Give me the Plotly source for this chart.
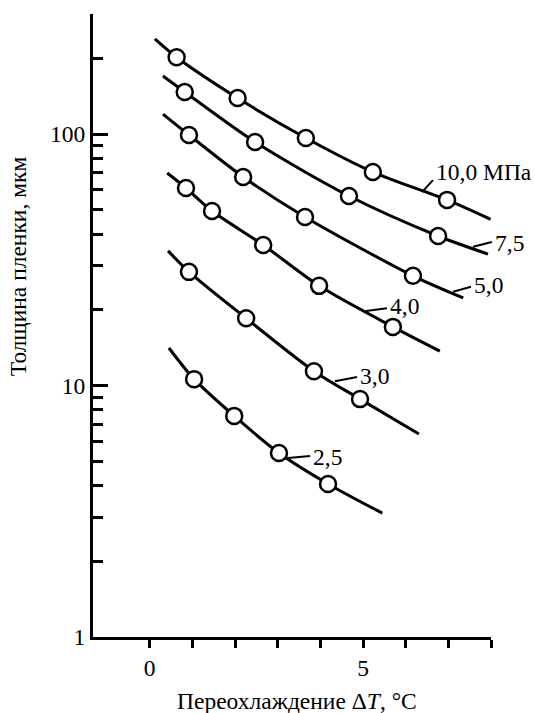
import plotly.graph_objects as go
import numpy as np

# ---- data ----
pressures = ["10,0 МПа", "7,5", "5,0", "4,0", "3,0", "2,5"]

# measured points (open circles)
pts_x = [
    [0.63, 2.06, 3.66, 5.23, 6.97],
    [0.82, 2.47, 4.67, 6.76],
    [0.92, 2.19, 3.64, 6.17],
    [0.85, 1.46, 2.66, 3.97, 5.70],
    [0.92, 2.26, 3.85, 4.93],
    [1.04, 1.98, 3.03, 4.18],
]
pts_y = [
    [202, 139, 96.4, 70.6, 54.7],
    [147, 92.9, 56.7, 39.3],
    [99.1, 67.5, 46.8, 27.3],
    [61.0, 49.4, 36.2, 24.9, 17.1],
    [28.3, 18.5, 11.4, 8.83],
    [10.6, 7.57, 5.39, 4.06],
]
# fitted curve end points (start, end)
curve_start_x = [0.12, 0.31, 0.31, 0.41, 0.43, 0.45]
curve_start_y = [239, 170, 120, 70.0, 34.3, 14.1]
curve_end_x = [7.99, 7.93, 7.35, 6.80, 6.31, 5.45]
curve_end_y = [45.8, 33.3, 22.3, 13.7, 6.41, 3.11]

# label leader lines: (x on curve, y on curve) -> (x at text, y at text)
lead_x0 = [6.38, 7.58, 7.11, 5.07, 4.34, 3.24]
lead_y0 = [58.7, 35.6, 23.6, 19.8, 10.4, 5.15]
lead_x1 = [6.64, 8.02, 7.53, 5.56, 4.86, 3.76]
lead_y1 = [65.6, 37.2, 24.7, 20.3, 10.8, 5.25]
label_y = [70.6, 36.9, 25.1, 20.7, 10.9, 5.20]

x_ticks = [0, 1, 2, 3, 4, 5, 6, 7, 8]
x_ticklabels = ["0", "", "", "", "", "5", "", "", ""]
y_ticks = [1, 10, 100]
y_ticklabels = ["1", "10", "100"]
y_minor = [2, 3, 4, 5, 6, 7, 8, 9, 20, 30, 40, 50, 60, 70, 80, 90, 200, 300]

FONT = "Liberation Serif, Times New Roman, serif"
FS = 23.5
XMIN, XMAX = -1.33, 8.0
YMAX = 300


def xpaper(v):
    return (v - XMIN) / (XMAX - XMIN)


fig = go.Figure()
for i in range(len(pressures)):
    lx = [curve_start_x[i]] + pts_x[i] + [curve_end_x[i]]
    ly = [curve_start_y[i]] + pts_y[i] + [curve_end_y[i]]
    fig.add_trace(go.Scatter(x=lx, y=ly, mode="lines",
                             line=dict(color="black", width=3, shape="spline", smoothing=0.8),
                             showlegend=False, hoverinfo="skip"))
    # leader line
    fig.add_shape(type="line", xref="paper", yref="y",
                  x0=xpaper(lead_x0[i]), x1=xpaper(lead_x1[i]),
                  y0=lead_y0[i], y1=lead_y1[i],
                  line=dict(color="black", width=2), layer="below")
    fig.add_trace(go.Scatter(x=pts_x[i], y=pts_y[i], mode="markers",
                             marker=dict(symbol="circle", size=16, color="white",
                                         line=dict(color="black", width=2.5)),
                             showlegend=False, cliponaxis=False))
    fig.add_annotation(xref="paper", x=xpaper(lead_x1[i] + 0.02), y=np.log10(label_y[i]),
                       text=pressures[i], xanchor="left", yanchor="middle", showarrow=False,
                       font=dict(family=FONT, size=FS, color="black"))

# axis titles
fig.add_annotation(xref="paper", yref="paper", x=0.513, y=-0.103,
                   text="Переохлаждение Δ<i>T</i>, °C", showarrow=False,
                   xanchor="center", yanchor="middle",
                   font=dict(family=FONT, size=FS, color="black"))
fig.add_annotation(xref="paper", yref="paper", x=-0.188, y=0.5955,
                   text="Толщина пленки, мкм", showarrow=False, textangle=-90,
                   xanchor="center", yanchor="middle",
                   font=dict(family=FONT, size=FS, color="black"))

fig.update_xaxes(range=[XMIN, XMAX], showline=True, linecolor="black", linewidth=3,
                 ticks="outside", ticklen=8, tickwidth=3, tickcolor="black",
                 tickmode="array", tickvals=x_ticks, ticktext=x_ticklabels,
                 showgrid=False, zeroline=False,
                 tickfont=dict(family=FONT, size=FS, color="black"))
fig.update_yaxes(type="log", range=[0, np.log10(YMAX)], showline=True, linecolor="black",
                 linewidth=3, ticks="inside", ticklen=15, tickwidth=3, tickcolor="black",
                 tickmode="array", tickvals=y_ticks, ticktext=y_ticklabels,
                 minor=dict(ticks="inside", ticklen=10, tickwidth=3, tickcolor="black",
                            tickmode="array", tickvals=y_minor, showgrid=False),
                 showgrid=False, zeroline=False,
                 tickfont=dict(family=FONT, size=FS, color="black"))

fig.update_layout(width=535, height=713, margin=dict(l=93, r=44, t=14, b=76),
                  paper_bgcolor="white", plot_bgcolor="white", showlegend=False)

fig.write_html("out.html")
